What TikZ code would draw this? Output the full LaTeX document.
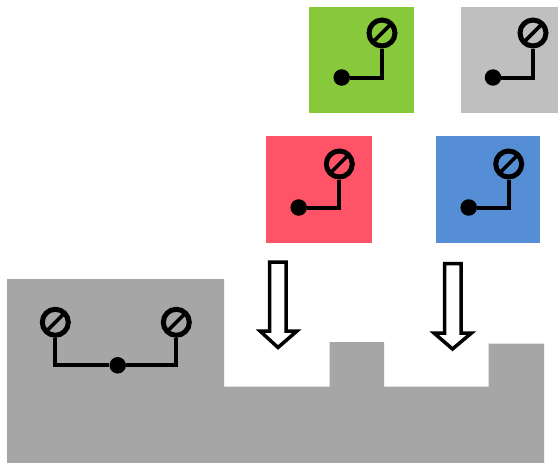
\documentclass[tikz,border=0pt]{standalone}
\usepackage{tikz}
\definecolor{cgreen}{HTML}{87C93B}
\definecolor{cgray}{HTML}{BFBFBF}
\definecolor{cred}{HTML}{FF5468}
\definecolor{cblue}{HTML}{558ED5}
\definecolor{cground}{HTML}{A6A6A6}
\tikzset{
  screwnode/.style={circle,draw=black,line width=5pt,minimum size=26pt,inner sep=0pt,
    path picture={\draw[black,line width=3.6pt]
      (path picture bounding box.south west)--(path picture bounding box.north east);}},
  dotnode/.style={circle,fill=black,draw=none,minimum size=16.5pt,inner sep=0pt},
  wire/.style={draw=black,line width=4pt,line cap=butt},
  downarrow/.style={draw=black,fill=white,line width=3.5pt,miter limit=10,line join=miter},
}
\begin{document}
\begin{tikzpicture}[x=1pt,y=-1pt]
\useasboundingbox (0,0) rectangle (558,463);
\fill[white] (0,0) rectangle (558,463);
% colored squares
\fill[cgreen] (309,7) rectangle (414,113);
\fill[cgray] (460.5,7) rectangle (558,113);
\fill[cred] (266,136) rectangle (371.5,243);
\fill[cblue] (436,136) rectangle (540,243);
% ground
\fill[cground] (7,279) -- (224,279) -- (224,386.5) -- (329.7,386.5) -- (329.7,342) -- (384,342)
  -- (384,386.5) -- (488.7,386.5) -- (488.7,343.7) -- (544,343.7) -- (544,463) -- (7,463) -- cycle;
% arrows
\path[downarrow] (269.7,262) -- (286,262) -- (286,331) -- (297,331) -- (278,347.5) -- (260,331) -- (269.7,331) -- cycle;
\path[downarrow] (444.5,263.5) -- (461,263.5) -- (461,333) -- (471.5,333) -- (452.5,349) -- (434,333) -- (444.5,333) -- cycle;
% fixtures
\node[screwnode] (s1) at (382,33) {};
\node[dotnode] (d1) at (341.7,77.5) {};
\draw[wire] (d1) -| (s1);
\node[screwnode] (s2) at (533,33) {};
\node[dotnode] (d2) at (493,77.5) {};
\draw[wire] (d2) -| (s2);
\node[screwnode] (s3) at (339.3,164) {};
\node[dotnode] (d3) at (298.7,207.5) {};
\draw[wire] (d3) -| (s3);
\node[screwnode] (s4) at (508.7,164) {};
\node[dotnode] (d4) at (468.7,207.5) {};
\draw[wire] (d4) -| (s4);
\node[screwnode] (s5) at (55.3,322.3) {};
\node[screwnode] (s6) at (176.3,322.3) {};
\node[dotnode] (d5) at (117.7,365.3) {};
\draw[wire] (s5) |- (d5);
\draw[wire] (s6) |- (d5);
\end{tikzpicture}
\end{document}
